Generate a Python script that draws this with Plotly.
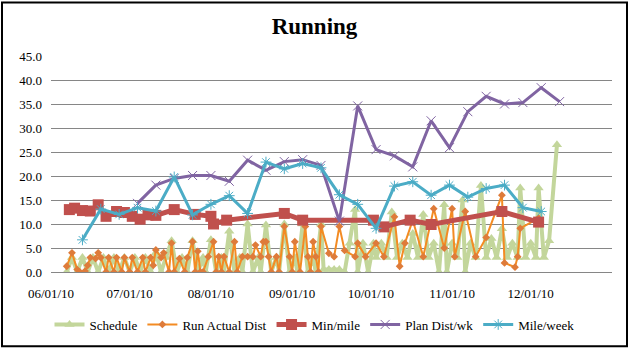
import plotly.graph_objects as go

# ---------------- data ----------------
schedule_dates = [
    "2010-06-07", "2010-06-09", "2010-06-11", "2010-06-13", "2010-06-15", "2010-06-17", "2010-06-19",
    "2010-06-21", "2010-06-23", "2010-06-25", "2010-06-27", "2010-06-29", "2010-07-01", "2010-07-03",
    "2010-07-05", "2010-07-07", "2010-07-09", "2010-07-11", "2010-07-13", "2010-07-15", "2010-07-17",
    "2010-07-19", "2010-07-21", "2010-07-23", "2010-07-25", "2010-07-27", "2010-07-29", "2010-07-30",
    "2010-08-01", "2010-08-03", "2010-08-05", "2010-08-06", "2010-08-08", "2010-08-10", "2010-08-12",
    "2010-08-13", "2010-08-15", "2010-08-17", "2010-08-19", "2010-08-20", "2010-08-22", "2010-08-24",
    "2010-08-26", "2010-08-27", "2010-08-29", "2010-08-31", "2010-09-02", "2010-09-03", "2010-09-05",
    "2010-09-07", "2010-09-09", "2010-09-10", "2010-09-12", "2010-09-13", "2010-09-15", "2010-09-17",
    "2010-09-19", "2010-09-21", "2010-09-23", "2010-09-25", "2010-09-26", "2010-09-28", "2010-09-30",
    "2010-10-02", "2010-10-03", "2010-10-05", "2010-10-07", "2010-10-09", "2010-10-11", "2010-10-13",
    "2010-10-15", "2010-10-17", "2010-10-19", "2010-10-21", "2010-10-23", "2010-10-25", "2010-10-27",
    "2010-10-29", "2010-10-30", "2010-11-01", "2010-11-03", "2010-11-05", "2010-11-06", "2010-11-08",
    "2010-11-10", "2010-11-12", "2010-11-14", "2010-11-16", "2010-11-18", "2010-11-20", "2010-11-22",
    "2010-11-24", "2010-11-26", "2010-11-27", "2010-11-29", "2010-12-01", "2010-12-03", "2010-12-04",
    "2010-12-06", "2010-12-08", "2010-12-11",
]
schedule_vals = [
    0, 3, 0, 3, 0, 3, 0,
    3, 0, 3, 0, 3, 0, 3,
    0, 3, 0, 4, 0, 3, 6.5,
    0, 3, 0, 6.5, 0, 3, 0,
    6.7, 0, 3, 0, 8.5, 0, 3,
    0, 10, 0, 3, 0, 9.8, 0,
    3, 0, 10, 0, 3, 0, 10,
    0, 3, 0, 10, 0.5, 0.5, 0.5,
    0.5, 0, 6, 13, 0, 6, 0,
    6, 3, 6, 3, 12.5, 3, 6,
    3, 8, 3, 12, 3, 6, 0,
    14, 0, 6, 3, 15, 0, 6,
    3, 18, 3, 7, 3, 9, 3,
    6, 3, 17.5, 3, 6, 3, 17.5,
    3, 6.5, 26.5,
]

run_dates = [
    "2010-06-07", "2010-06-09", "2010-06-11", "2010-06-12", "2010-06-14", "2010-06-15", "2010-06-16",
    "2010-06-18", "2010-06-19", "2010-06-20", "2010-06-22", "2010-06-23", "2010-06-25", "2010-06-26",
    "2010-06-28", "2010-06-29", "2010-07-01", "2010-07-02", "2010-07-04", "2010-07-06", "2010-07-07",
    "2010-07-09", "2010-07-10", "2010-07-11", "2010-07-13", "2010-07-14", "2010-07-16", "2010-07-17",
    "2010-07-18", "2010-07-20", "2010-07-22", "2010-07-23", "2010-07-25", "2010-07-26", "2010-07-27",
    "2010-07-28", "2010-07-29", "2010-07-31", "2010-08-02", "2010-08-03", "2010-08-04", "2010-08-05",
    "2010-08-06", "2010-08-08", "2010-08-10", "2010-08-11", "2010-08-13", "2010-08-15", "2010-08-17",
    "2010-08-18", "2010-08-20", "2010-08-21", "2010-08-22", "2010-08-23", "2010-08-24", "2010-08-26",
    "2010-08-27", "2010-08-29", "2010-08-31", "2010-09-01", "2010-09-02", "2010-09-04", "2010-09-06",
    "2010-09-07", "2010-09-08", "2010-09-09", "2010-09-10", "2010-09-11", "2010-09-12", "2010-09-15",
    "2010-09-17", "2010-09-19", "2010-09-21", "2010-09-25", "2010-09-26", "2010-09-29", "2010-10-03",
    "2010-10-06", "2010-10-10", "2010-10-12", "2010-10-14", "2010-10-17", "2010-10-21", "2010-10-25",
    "2010-10-29", "2010-11-01", "2010-11-02", "2010-11-06", "2010-11-10", "2010-11-14", "2010-11-20",
    "2010-11-21", "2010-11-25", "2010-11-26", "2010-11-27", "2010-12-04",
]
run_vals = [
    1.2, 4.0, 0.5, 0.0, 0.2, 1.4, 3.0,
    2.8, 4.0, 3.0, 0.0, 3.0, 0.0, 3.0,
    0.0, 3.0, 0.0, 3.0, 0.0, 3.0, 0.0,
    3.0, 1.4, 4.6, 3.0, 4.0, 0.0, 6.0,
    0.0, 2.8, 0.0, 3.0, 6.3, 0.0, 4.3,
    0.0, 0.0, 3.2, 6.3, 0.0, 3.2, 0.0,
    3.2, 0.0, 6.3, 0.0, 3.2, 3.2, 3.2,
    5.6, 3.2, 6.3, 6.3, 3.2, 0.0, 3.2,
    0.0, 9.5, 3.2, 0.0, 6.3, 0.0, 9.5,
    3.2, 0.0, 6.3, 3.2, 0.0, 9.5, 3.9,
    3.2, 9.5, 4.5, 3.2, 6.0, 3.2, 6.0,
    3.2, 11.5, 1.2, 6.0, 10.8, 3.2, 13.2,
    5.0, 13.2, 3.2, 12.6, 3.2, 7.2, 16.0,
    1.9, 1.0, 3.2, 9.1, 11.2,
]

pace_dates = [
    "2010-06-08", "2010-06-10", "2010-06-13", "2010-06-16", "2010-06-19", "2010-06-22", "2010-06-26",
    "2010-06-29", "2010-07-02", "2010-07-05", "2010-07-08", "2010-07-11", "2010-07-18", "2010-07-26",
    "2010-08-01", "2010-08-02", "2010-08-07", "2010-08-29", "2010-09-05", "2010-10-02", "2010-10-06",
    "2010-10-16", "2010-10-24", "2010-11-20", "2010-12-04",
]
pace_vals = [
    13.0, 13.3, 12.8, 12.7, 14.0, 11.6, 12.6,
    12.4, 11.6, 11.0, 11.9, 11.8, 13.0, 12.0,
    11.6, 10.0, 10.8, 12.2, 10.8, 10.8, 9.4,
    10.8, 9.9, 12.6, 10.4,
]

plan_dates = [
    "2010-07-04", "2010-07-11", "2010-07-18", "2010-07-25", "2010-08-01", "2010-08-08", "2010-08-15",
    "2010-08-22", "2010-08-29", "2010-09-05", "2010-09-12", "2010-09-19", "2010-09-26", "2010-10-03",
    "2010-10-10", "2010-10-17", "2010-10-24", "2010-10-31", "2010-11-07", "2010-11-14", "2010-11-21",
    "2010-11-28", "2010-12-05", "2010-12-12",
]
plan_vals = [
    14.3, 18.1, 19.5, 20.1, 20.1, 18.9, 23.3,
    21.2, 23.0, 23.4, 22.2, 10.6, 34.6, 25.5,
    24.2, 21.9, 31.5, 25.9, 33.4, 36.6, 35.0,
    35.3, 38.4, 35.5,
]

week_dates = [
    "2010-06-13", "2010-06-20", "2010-06-27", "2010-07-04", "2010-07-11", "2010-07-18", "2010-07-25",
    "2010-08-01", "2010-08-08", "2010-08-15", "2010-08-22", "2010-08-29", "2010-09-05", "2010-09-12",
    "2010-09-19", "2010-09-26", "2010-10-03", "2010-10-10", "2010-10-17", "2010-10-24", "2010-10-31",
    "2010-11-07", "2010-11-14", "2010-11-21", "2010-11-28", "2010-12-05",
]
week_vals = [
    6.7, 13.1, 12.0, 13.4, 12.7, 19.8, 11.9,
    14.1, 15.9, 12.2, 22.9, 21.5, 22.6, 21.7,
    16.1, 14.1, 9.1, 17.9, 18.8, 16.0, 18.1,
    15.6, 17.4, 18.1, 13.4, 12.6,
]

x_tick_vals = ["2010-06-01", "2010-07-01", "2010-08-01", "2010-09-01",
               "2010-10-01", "2010-11-01", "2010-12-01"]
x_tick_text = ["06/01/10", "07/01/10", "08/01/10", "09/01/10",
               "10/01/10", "11/01/10", "12/01/10"]
y_tick_vals = [0, 5, 10, 15, 20, 25, 30, 35, 40, 45]

# ---------------- figure ----------------
FONT = "Liberation Serif"
W, H = 629, 351
ML, MR, MT, MB = 51, 17, 56, 77

fig = go.Figure()
fig.add_trace(go.Scatter(
    x=schedule_dates, y=schedule_vals, name="Schedule", mode="lines+markers",
    line=dict(color="#C3D69B", width=4),
    marker=dict(symbol="triangle-up", size=9, color="#C3D69B"),
))
fig.add_trace(go.Scatter(
    x=run_dates, y=run_vals, name="Run Actual Dist", mode="lines+markers",
    line=dict(color="#F38B23", width=2),
    marker=dict(symbol="diamond", size=6, color="#DE7B3A"),
))
fig.add_trace(go.Scatter(
    x=pace_dates, y=pace_vals, name="Min/mile", mode="lines+markers",
    line=dict(color="#C0504D", width=5),
    marker=dict(symbol="square", size=11, color="#C0504D"),
))
fig.add_trace(go.Scatter(
    x=plan_dates, y=plan_vals, name="Plan Dist/wk", mode="lines+markers",
    line=dict(color="#8064A2", width=3),
    marker=dict(symbol="x-thin-open", size=9, color="#8064A2", line=dict(width=1, color="#8064A2")),
))
fig.add_trace(go.Scatter(
    x=week_dates, y=week_vals, name="Mile/week", mode="lines+markers",
    line=dict(color="#4BACC6", width=3),
    marker=dict(symbol="asterisk-open", size=9, color="#4BACC6", line=dict(width=1, color="#4BACC6")),
))

pw = W - ML - MR
ph = H - MT - MB
fig.add_shape(
    type="rect", xref="paper", yref="paper",
    x0=(2 - ML) / pw, x1=(W - 2 - ML) / pw,
    y0=-(H - 2 - MT - ph) / ph, y1=1 + (MT - 2) / ph,
    line=dict(color="black", width=2), fillcolor="rgba(0,0,0,0)", layer="below",
)

fig.update_layout(
    width=W, height=H,
    margin=dict(l=ML, r=MR, t=MT, b=MB),
    paper_bgcolor="white", plot_bgcolor="white",
    font=dict(family=FONT, size=13, color="black"),
    title=dict(text="<b>Running</b>", x=0.5, xanchor="center", y=1 - 26 / H, yanchor="middle",
               yref="container", font=dict(family=FONT, size=23, color="black")),
    showlegend=True,
    legend=dict(orientation="h", x=0.5 - 17 / pw, xanchor="center", y=-(327 - (MT + ph)) / ph,
                yanchor="middle", font=dict(family=FONT, size=13), itemwidth=30, tracegroupgap=0,
                bgcolor="rgba(0,0,0,0)"),
    xaxis=dict(type="date", range=["2010-06-01", "2011-01-01"],
               tickvals=x_tick_vals, ticktext=x_tick_text,
               showgrid=False, zeroline=False, showline=False,
               ticks="", ticklabelstandoff=12,
               tickfont=dict(family=FONT, size=13)),
    yaxis=dict(range=[0, 45], tickvals=y_tick_vals, tickformat=".1f",
               showgrid=True, gridcolor="#868686", gridwidth=1,
               zeroline=True, zerolinecolor="#868686", zerolinewidth=1,
               showline=False, ticks="", ticklabelstandoff=8,
               tickfont=dict(family=FONT, size=13)),
)

fig.write_html("out.html")
